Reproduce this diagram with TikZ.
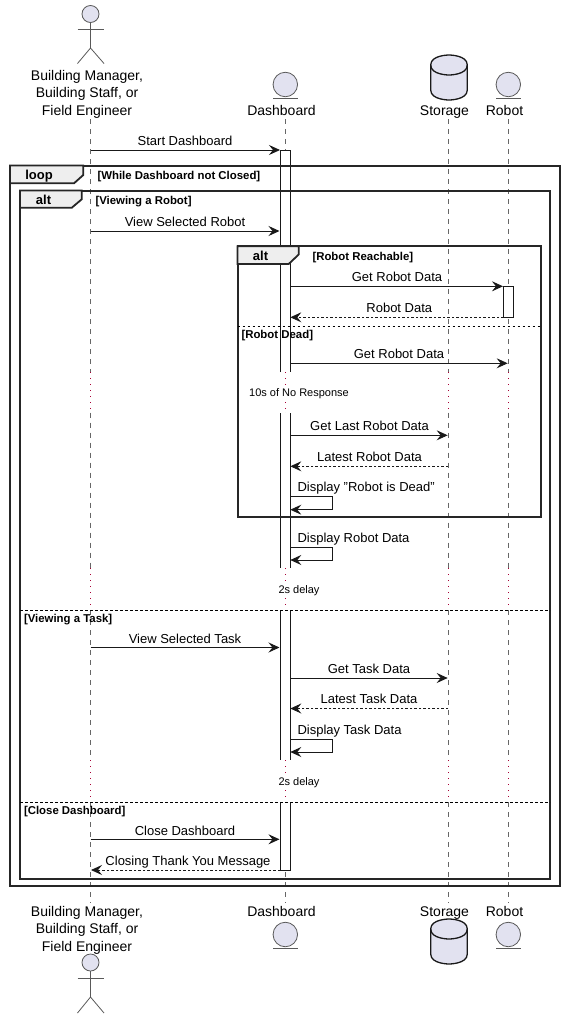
\documentclass[tikz,border=0pt]{standalone}
\usepackage{fontspec}
\setmainfont{Liberation Sans}
\usetikzlibrary{
    arrows.meta
}
\definecolor{partfill}{HTML}{E2E2F0}
\definecolor{delaydot}{HTML}{A80036}
\definecolor{tabfill}{HTML}{EEEEEE}

\begin{document}
\begin{tikzpicture}[
        x=1pt,
        y=-1pt,
        every node/.style={inner sep=0pt,outer sep=0pt},
        figure/.style={line width=0.8pt,draw=black!65},
        head/.style={circle,figure,fill=partfill,minimum size=17pt},
        entity/.style={circle,figure,fill=partfill,minimum size=24.5pt},
        database/.style={draw=black!90,line width=1.3pt},
        partname/.style={font=\fontsize{14}{17.5}\selectfont,align=center},
        shortname/.style={partname,anchor=base},
        lifeline/.style={line width=0.7pt,draw=black!60,dash pattern=on 5pt off 5pt},
        delayline/.style={line width=0.9pt,draw=delaydot,dash pattern=on 1pt off 5pt},
        barbody/.style={rectangle,fill=white,minimum width=10pt},
        barline/.style={line width=0.9pt,draw=black!90},
        frame/.style={line width=2pt,draw=black!85},
        tab/.style={line width=1.8pt,draw=black!85,fill=tabfill},
        divider/.style={line width=0.8pt,draw=black,dash pattern=on 2.5pt off 2.5pt},
        msg/.style={
            -{Stealth[length=11pt,width=10pt,inset=4pt]},
            line width=0.9pt,
            draw=black!90
        },
        reply/.style={msg,dash pattern=on 2.5pt off 2pt},
        msgtext/.style={font=\fontsize{13}{15}\selectfont,anchor=base},
        selftext/.style={msgtext,anchor=base west},
        tabtext/.style={font=\fontsize{13}{15}\bfseries\selectfont,anchor=base},
        guard/.style={font=\fontsize{11.4}{13}\bfseries\selectfont,anchor=base west},
        delaytext/.style={font=\fontsize{11}{13}\selectfont,fill=white,inner sep=1pt}
    ]
        \useasboundingbox (0,0) rectangle (565,1018);

        % Participants, top row
        \node[head] (mgrhead) at (90.5,14) {};
        \coordinate (mgrhip) at (90.5,48);
        \draw[figure] (mgrhead) -- (mgrhip);
        \draw[figure] (77.5,29.5) -- (104,29.5);
        \draw[figure] (77.5,63.5) -- (mgrhip) -- (104,63.5);
        \node[partname] (mgrname) at (87,94)
            {Building Manager,\\Building Staff, or\\Field Engineer};
        \node[entity] (dashicon) at (285.3,84.5) {};
        \draw[figure] (273,98) -- (297.5,98);
        \node[shortname] (dashname) at (281.5,115.5) {Dashboard};
        \draw[database,fill=partfill] (430.7,65) .. controls (430.7,55) and (449,55) .. (449,55)
            .. controls (449,55) and (467.3,55) .. (467.3,65) -- (467.3,90)
            .. controls (467.3,100) and (449,100) .. (449,100)
            .. controls (449,100) and (430.7,100) .. (430.7,90) -- cycle;
        \draw[database] (430.7,65) .. controls (430.7,75) and (449,75) .. (449,75)
            .. controls (449,75) and (467.3,75) .. (467.3,65);
        \node[shortname] (storename) at (444.5,115.5) {Storage};
        \node[entity] (roboticon) at (508.3,84.5) {};
        \draw[figure] (496,98) -- (520.5,98);
        \node[shortname] (robotname) at (504.5,115.5) {Robot};

        % Participants, bottom row
        \node[partname] (mgrnamelow) at (87,930)
            {Building Manager,\\Building Staff, or\\Field Engineer};
        \node[head] (mgrheadlow) at (90.5,962.5) {};
        \coordinate (mgrhiplow) at (90.5,997);
        \draw[figure] (mgrheadlow) -- (mgrhiplow);
        \draw[figure] (77.5,978.5) -- (104,978.5);
        \draw[figure] (77.5,1013) -- (mgrhiplow) -- (104,1013);
        \node[shortname] (dashnamelow) at (281.5,916.5) {Dashboard};
        \node[entity] (dashiconlow) at (285.3,934.5) {};
        \draw[figure] (273,948.5) -- (297.5,948.5);
        \draw[database,fill=partfill] (430.7,929) .. controls (430.7,919) and (449,919) .. (449,919)
            .. controls (449,919) and (467.3,919) .. (467.3,929) -- (467.3,954)
            .. controls (467.3,964) and (449,964) .. (449,964)
            .. controls (449,964) and (430.7,964) .. (430.7,954) -- cycle;
        \draw[database] (430.7,929) .. controls (430.7,939) and (449,939) .. (449,939)
            .. controls (449,939) and (467.3,939) .. (467.3,929);
        \node[shortname] (storenamelow) at (444.5,916.5) {Storage};
        \node[shortname] (robotnamelow) at (504.5,916.5) {Robot};
        \node[entity] (roboticonlow) at (508.3,934.5) {};
        \draw[figure] (496,948.5) -- (520.5,948.5);

        % Lifelines
        \coordinate (mgrtop) at (90.5,119);
        \coordinate (dashtop) at (285.3,119);
        \coordinate (storetop) at (448.3,119);
        \coordinate (robottop) at (508.3,119);
        \coordinate (waitAtop) at (0,372);
        \coordinate (waitAend) at (0,412.5);
        \coordinate (waitBtop) at (0,568);
        \coordinate (waitBend) at (0,610);
        \coordinate (waitCtop) at (0,760);
        \coordinate (waitCend) at (0,802);
        \coordinate (lifeend) at (0,903);
        \foreach \life in {mgr,dash,store,robot} {
            \draw[lifeline] (\life top) -- (\life top |- waitAtop);
            \draw[delayline] (\life top |- waitAtop) -- (\life top |- waitAend);
            \draw[lifeline] (\life top |- waitAend) -- (\life top |- waitBtop);
            \draw[delayline] (\life top |- waitBtop) -- (\life top |- waitBend);
            \draw[lifeline] (\life top |- waitBend) -- (\life top |- waitCtop);
            \draw[delayline] (\life top |- waitCtop) -- (\life top |- waitCend);
            \draw[lifeline] (\life top |- waitCend) -- (\life top |- lifeend);
        }

        % Activation bars
        \node[barbody,minimum height=222pt] (barA) at (285.3,261) {};
        \node[barbody,minimum height=155pt] (barB) at (285.3,490.5) {};
        \node[barbody,minimum height=150pt] (barC) at (285.3,685) {};
        \node[barbody,minimum height=68.5pt] (barD) at (285.3,836) {};
        \node[barbody,draw=black!90,line width=0.9pt,minimum height=31pt] (barrobot) at (508.7,301.8) {};
        \draw[barline] (barA.south west) -- (barA.north west) -- (barA.north east) -- (barA.south east);
        \draw[barline] (barB.north west) -- (barB.south west);
        \draw[barline] (barB.north east) -- (barB.south east);
        \draw[barline] (barC.north west) -- (barC.south west);
        \draw[barline] (barC.north east) -- (barC.south east);
        \draw[barline] (barD.north west) -- (barD.south west) -- (barD.south east) -- (barD.north east);

        % Frames
        \draw[frame] (10,165.5) rectangle (560,885.5);
        \draw[tab] (10,165.5) -- (83.3,165.5) -- (83.3,175) -- (74,183.3) -- (10,183.3) -- cycle;
        \node[tabtext] (looptag) at (39,179.5) {loop};
        \node[guard] (loopguard) at (97.5,179) {[While Dashboard not Closed]};

        \draw[frame] (20,190.5) rectangle (550,878.5);
        \draw[tab] (20,190.5) -- (81.7,190.5) -- (81.7,199.3) -- (71.7,207.8) -- (20,207.8) -- cycle;
        \node[tabtext] (alttag) at (43.5,204.5) {alt};
        \node[guard] (robotguard) at (95.5,204) {[Viewing a Robot]};
        \draw[divider] (20,610) -- (550,610);
        \node[guard] (taskguard) at (24,622) {[Viewing a Task]};
        \draw[divider] (20,802) -- (550,802);
        \node[guard] (closeguard) at (24,814) {[Close Dashboard]};

        \draw[frame] (237.5,246.3) rectangle (540.7,517.3);
        \draw[tab] (237.5,246.3) -- (298.7,246.3) -- (298.7,254.5) -- (288.7,264) -- (237.5,264) -- cycle;
        \node[tabtext] (innertag) at (260.5,260.5) {alt};
        \node[guard] (reachguard) at (312.5,260) {[Robot Reachable]};
        \draw[divider] (237.5,326.3) -- (540.7,326.3);
        \node[guard] (deadguard) at (241.5,338) {[Robot Dead]};

        % Start and first view
        \coordinate (startA) at (90.5,150);
        \coordinate (startB) at (280,150);
        \draw[msg] (startA) -- (startB);
        \node[msgtext] (startlbl) at (185,145) {Start Dashboard};
        \coordinate (viewrobotA) at (90.5,231);
        \coordinate (viewrobotB) at (279.5,231);
        \draw[msg] (viewrobotA) -- (viewrobotB);
        \node[msgtext] (viewrobotlbl) at (185,226) {View Selected Robot};

        % Robot reachable
        \coordinate (getA) at (290.3,286.3);
        \coordinate (getB) at (503,286.3);
        \draw[msg] (getA) -- (getB);
        \node[msgtext] (getlbl) at (397,281.5) {Get Robot Data};
        \coordinate (dataA) at (503.7,317.3);
        \coordinate (dataB) at (290.3,317.3);
        \draw[reply] (dataA) -- (dataB);
        \node[msgtext] (datalbl) at (399.3,312.5) {Robot Data};

        % Robot dead
        \coordinate (retryA) at (290.3,363.3);
        \coordinate (retryB) at (507.7,363.3);
        \draw[msg] (retryA) -- (retryB);
        \node[msgtext] (retrylbl) at (399,358.5) {Get Robot Data};
        \node[delaytext] (waitAlbl) at (299,394) {10s of No Response};
        \coordinate (lastA) at (290.3,435.3);
        \coordinate (lastB) at (447.7,435.3);
        \draw[msg] (lastA) -- (lastB);
        \node[msgtext] (lastlbl) at (369.5,430.5) {Get Last Robot Data};
        \coordinate (latestA) at (448.3,466.3);
        \coordinate (latestB) at (290.3,466.3);
        \draw[reply] (latestA) -- (latestB);
        \node[msgtext] (latestlbl) at (369.5,461.5) {Latest Robot Data};
        \coordinate (deadA) at (290.3,496.7);
        \coordinate (deadB) at (290.3,509.7);
        \draw[msg] (deadA) -- ++(42,0) -- ++(0,13) -- (deadB);
        \node[selftext] (deadlbl) at (297.5,491.5) {Display "Robot is Dead"};

        % Robot view end
        \coordinate (showA) at (290.3,547);
        \coordinate (showB) at (290.3,560);
        \draw[msg] (showA) -- ++(42,0) -- ++(0,13) -- (showB);
        \node[selftext] (showlbl) at (297.5,542) {Display Robot Data};
        \node[delaytext] (waitBlbl) at (299,590.5) {2s delay};

        % Viewing a task
        \coordinate (viewtaskA) at (90.5,647.5);
        \coordinate (viewtaskB) at (279.5,647.5);
        \draw[msg] (viewtaskA) -- (viewtaskB);
        \node[msgtext] (viewtasklbl) at (185,643) {View Selected Task};
        \coordinate (taskA) at (290.3,678);
        \coordinate (taskB) at (447.7,678);
        \draw[msg] (taskA) -- (taskB);
        \node[msgtext] (tasklbl) at (369,673) {Get Task Data};
        \coordinate (taskdataA) at (448.3,708.5);
        \coordinate (taskdataB) at (290.3,708.5);
        \draw[reply] (taskdataA) -- (taskdataB);
        \node[msgtext] (taskdatalbl) at (369,703.5) {Latest Task Data};
        \coordinate (showtaskA) at (290.3,739);
        \coordinate (showtaskB) at (290.3,752);
        \draw[msg] (showtaskA) -- ++(42,0) -- ++(0,13) -- (showtaskB);
        \node[selftext] (showtasklbl) at (297.5,734) {Display Task Data};
        \node[delaytext] (waitClbl) at (299,782.5) {2s delay};

        % Closing
        \coordinate (closeA) at (90.5,839.3);
        \coordinate (closeB) at (279.5,839.3);
        \draw[msg] (closeA) -- (closeB);
        \node[msgtext] (closelbl) at (185,835) {Close Dashboard};
        \coordinate (thanksA) at (280.3,870);
        \coordinate (thanksB) at (91,870);
        \draw[reply] (thanksA) -- (thanksB);
        \node[msgtext] (thankslbl) at (188,865) {Closing Thank You Message};
\end{tikzpicture}
\end{document}
